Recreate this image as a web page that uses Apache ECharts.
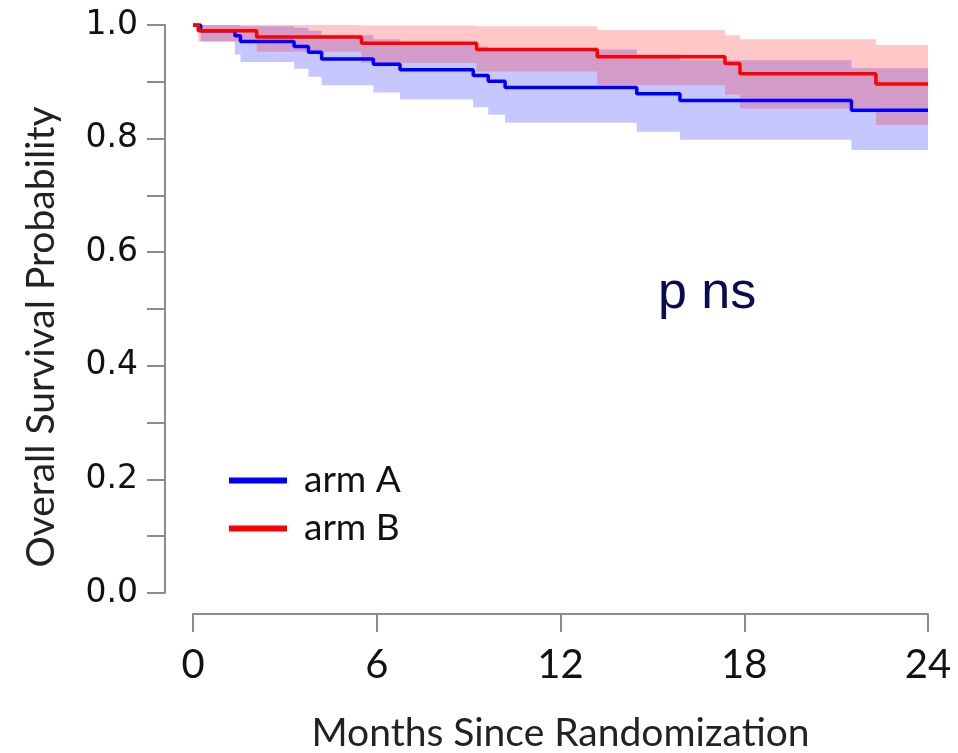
<!DOCTYPE html>
<html>
<head>
<meta charset="utf-8">
<script src="https://cdn.jsdelivr.net/npm/echarts@6/dist/echarts.min.js"></script>
<style>
html,body{margin:0;padding:0;background:#fff;}
#chart{width:958px;height:753px;}
</style>
</head>
<body>
<div id="chart"></div>
<script>
// ---- Data ----
const xTicks = [0, 6, 12, 18, 24];
const yTicks = [0.0, 0.2, 0.4, 0.6, 0.8, 1.0];

// arm A (blue): step start times, survival, 95% CI lower / upper
const armA_t  = [0,    0.25, 1.37,  1.55,  3.3,   3.77,  4.2,   5.89,  6.76,  9.15,  9.64,  10.19, 14.49, 15.9,  21.5];
const armA_s  = [1.0,  0.99, 0.981, 0.971, 0.962, 0.952, 0.94,  0.931, 0.921, 0.911, 0.901, 0.89,  0.879, 0.867, 0.85];
const armA_lo = [1.0,  0.971,0.948, 0.935, 0.923, 0.909, 0.894, 0.881, 0.869, 0.855, 0.842, 0.828, 0.812, 0.798, 0.78];
const armA_hi = [1.0,  1.0,  1.0,   0.998, 0.995, 0.99,  0.982, 0.975, 0.969, 0.962, 0.957, 0.957, 0.948, 0.938, 0.924];

// arm B (red)
const armB_t  = [0,    0.17,  2.08,  5.5,   9.26,  13.2,  17.37, 17.86, 22.3];
const armB_s  = [1.0,  0.99,  0.979, 0.968, 0.957, 0.944, 0.932, 0.914, 0.896];
const armB_lo = [1.0,  0.971, 0.953, 0.933, 0.918, 0.894, 0.877, 0.853, 0.824];
const armB_hi = [1.0,  1.0,   1.0,   0.999, 0.998, 0.991, 0.982, 0.975, 0.965];

const tEnd = 24;

function stepLine(t, s) {
  const d = t.map((v, i) => [v, s[i]]);
  d.push([tEnd, s[s.length - 1]]);
  return d;
}

function bandSeries(name, t, lo, hi, color) {
  return {
    type: 'custom',
    name: name,
    silent: true,
    z: 1,
    data: [0],
    renderItem: function (params, api) {
      const pts = [];
      for (let i = 0; i < t.length; i++) {
        const t1 = i + 1 < t.length ? t[i + 1] : tEnd;
        pts.push(api.coord([t[i], hi[i]]));
        pts.push(api.coord([t1, hi[i]]));
      }
      for (let i = t.length - 1; i >= 0; i--) {
        const t1 = i + 1 < t.length ? t[i + 1] : tEnd;
        pts.push(api.coord([t1, lo[i]]));
        pts.push(api.coord([t[i], lo[i]]));
      }
      return { type: 'polygon', shape: { points: pts }, style: { fill: color } };
    }
  };
}

const chart = echarts.init(document.getElementById('chart'), null, { renderer: 'canvas' });

const axisGray = '#8c8c8c';

chart.setOption({
  animation: false,
  backgroundColor: '#ffffff',
  grid: { left: 193, right: 30, top: 25, bottom: 160, containLabel: false, outerBoundsMode: 'none' },
  xAxis: {
    type: 'value',
    min: 0, max: 24, interval: 6,
    offset: 21,
    name: 'Months Since Randomization',
    nameLocation: 'middle',
    nameGap: 100,
    nameTextStyle: { fontFamily: 'Lato', fontSize: 39, color: '#222' },
    axisLine: { show: true, onZero: false, lineStyle: { color: axisGray, width: 2 } },
    axisTick: { show: true, length: 18, lineStyle: { color: axisGray, width: 2 } },
    axisLabel: {
      fontFamily: 'Lato', fontSize: 40, color: '#111', margin: 31,
      formatter: v => xTicks.includes(v) ? String(v) : ''
    },
    splitLine: { show: false }
  },
  yAxis: {
    type: 'value',
    min: 0, max: 1, interval: 0.2,
    offset: 28,
    name: 'Overall Survival Probability',
    nameLocation: 'middle',
    nameRotate: 90,
    nameGap: 104,
    nameTextStyle: { fontFamily: 'Lato', fontSize: 39, color: '#222', padding: [0, 56, 0, 0] },
    axisLine: { show: true, onZero: false, lineStyle: { color: axisGray, width: 2 } },
    axisTick: { show: true, length: 18, lineStyle: { color: axisGray, width: 2 } },
    minorTick: { show: true, splitNumber: 2, length: 18, lineStyle: { color: axisGray, width: 2 } },
    axisLabel: {
      fontFamily: 'DejaVu Sans', fontSize: 33, color: '#111', margin: 27,
      formatter: v => {
        const m = yTicks.find(y => Math.abs(y - v) < 1e-9);
        return m === undefined ? '' : m.toFixed(1);
      }
    },
    splitLine: { show: false },
    minorSplitLine: { show: false }
  },
  legend: {
    orient: 'vertical',
    left: 224, top: 457,
    itemWidth: 58, itemHeight: 6,
    itemGap: 11,
    icon: 'rect',
    data: ['arm A', 'arm B'],
    textStyle: { fontFamily: 'Lato', fontSize: 37, color: '#111', padding: [0, 0, 0, 12] }
  },
  graphic: [
    { type: 'text', left: 658, top: 268,
      style: { text: 'p ns', font: '52px "Liberation Sans"', fill: '#0b0b50' } }
  ],
  series: [
    bandSeries('armA_ci', armA_t, armA_lo, armA_hi, 'rgba(0,0,255,0.22)'),
    bandSeries('armB_ci', armB_t, armB_lo, armB_hi, 'rgba(255,0,0,0.22)'),
    { type: 'line', name: 'arm A', step: 'end', showSymbol: false, symbol: 'none', z: 3,
      data: stepLine(armA_t, armA_s), lineStyle: { color: '#0000ff', width: 3.5 }, itemStyle: { color: '#0000ff' } },
    { type: 'line', name: 'arm B', step: 'end', showSymbol: false, symbol: 'none', z: 4,
      data: stepLine(armB_t, armB_s), lineStyle: { color: '#ff0000', width: 3.5 }, itemStyle: { color: '#ff0000' } }
  ]
});
</script>
</body>
</html>
